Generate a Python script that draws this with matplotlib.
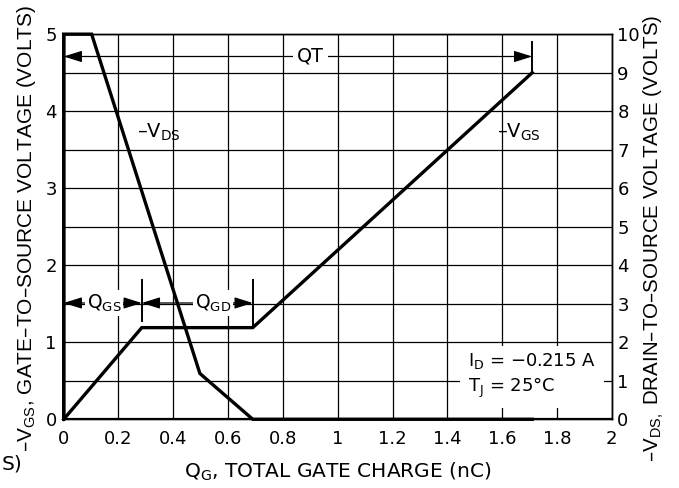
import numpy as np
import matplotlib
matplotlib.use('Agg')
import matplotlib.pyplot as plt

plt.rcParams['font.family'] = ['DejaVu Sans']
plt.rcParams['mathtext.default'] = 'regular'

# gate charge (nC) / voltages
qg_vgs = [0, 0.285, 0.69, 1.71]
vgs = [0, 1.19, 1.19, 4.5]          # left axis, volts
qg_vds = [0, 0, 0.102, 0.497, 0.69, 1.71]
vds = [0, 10, 10, 1.19, 0, 0]       # right axis, volts

q_gs = 0.285   # end of QGS
q_gd = 0.69    # end of QGD
q_t = 1.71     # total gate charge
y_qt = 4.71
y_qgsd = 1.51

fig = plt.figure(figsize=(6.79, 4.88), dpi=100)
ax = fig.add_axes([0.0938, 0.1408, 0.9009 - 0.0938, 0.930 - 0.1408])
ax2 = ax.twinx()

ax.set_xlim(0, 2)
ax.set_ylim(0, 5)
ax2.set_ylim(0, 10)
ax.set_xticks(np.arange(0, 2.01, 0.2))
ax.set_xticklabels(['0', '0.2', '0.4', '0.6', '0.8', '1', '1.2', '1.4', '1.6', '1.8', '2'])
ax.set_yticks(range(0, 6))
ax.set_yticks(np.arange(0.5, 5, 1.0), minor=True)
ax2.set_yticks(range(0, 11))
ax.grid(True, which='both', color='k', lw=0.9)
ax.set_axisbelow(True)
ax.tick_params(which='both', length=0, labelsize=13)
ax.tick_params(axis='x', pad=8)
ax.tick_params(axis='y', pad=5)
ax2.tick_params(length=0, labelsize=13, pad=4)
for a in (ax, ax2):
    for s in a.spines.values():
        s.set_linewidth(1.0)
ax.spines['bottom'].set_linewidth(1.6)

ax.plot(qg_vgs, vgs, color='k', lw=2.4, solid_joinstyle='miter', clip_on=False, zorder=4)
ax2.plot(qg_vds, vds, color='k', lw=2.4, solid_joinstyle='miter', clip_on=False, zorder=4)

# QT marker and arrow
ax.plot([q_t, q_t], [4.5, 4.9], color='k', lw=1.4, zorder=4)
arr = dict(arrowstyle='<|-|>,head_length=0.7,head_width=0.22', color='k', lw=0.9,
           shrinkA=0, shrinkB=0, mutation_scale=16)
ax.annotate('', xy=(0, y_qt), xytext=(q_t, y_qt), arrowprops=arr, zorder=3)
ax.text(0.9, y_qt, 'QT', fontsize=13.8, ha='center', va='center', zorder=5,
        bbox=dict(facecolor='white', edgecolor='none', pad=3))

# QGS / QGD markers
ax.plot([q_gs, q_gs], [1.28, 1.81], color='k', lw=1.4, zorder=4)
ax.plot([q_gd, q_gd], [1.19, 1.81], color='k', lw=1.4, zorder=4)
ax.annotate('', xy=(0, y_qgsd), xytext=(q_gs, y_qgsd), arrowprops=arr, zorder=3)
ax.annotate('', xy=(q_gs, y_qgsd), xytext=(q_gd, y_qgsd), arrowprops=arr, zorder=3)
ax.text(0.147, y_qgsd, 'Q$_{GS}$', fontsize=13.5, ha='center', va='center', zorder=5,
        bbox=dict(facecolor='white', edgecolor='none', pad=1.5))
ax.text(0.545, y_qgsd, 'Q$_{GD}$', fontsize=13.5, ha='center', va='center', zorder=5,
        bbox=dict(facecolor='white', edgecolor='none', pad=1.5))

ax.text(0.267, 3.65, '\u2013V$_{DS}$', fontsize=14, ha='left', va='baseline', zorder=5)
ax.text(1.58, 3.65, '\u2013V$_{GS}$', fontsize=14, ha='left', va='baseline', zorder=5)

ax.text(1.475, 0.57, 'I$_D$ = \u22120.215 A\nT$_J$ = 25\u00b0C', fontsize=13, ha='left',
        va='center', linespacing=1.3, zorder=5,
        bbox=dict(facecolor='white', edgecolor='none', pad=6))

ax.set_xlabel('Q$_G$, TOTAL GATE CHARGE (nC)', fontsize=14.5, labelpad=9)
fig.text(15 / 679, 1 - 452 / 488, '\u2013V$_{GS}$, GATE\u2013TO\u2013SOURCE VOLTAGE (VOLTS)',
         rotation=90, fontsize=15, family='Liberation Sans', ha='left', va='bottom')
fig.text(642 / 679, 1 - 462 / 488, '\u2013V$_{DS,}$ DRAIN\u2013TO\u2013SOURCE VOLTAGE (VOLTS)',
         rotation=90, fontsize=14.8, family='Liberation Sans', ha='left', va='bottom')
fig.text(0.002, 1 - 470 / 488, 'S)', fontsize=14.5, ha='left', va='baseline')

plt.savefig('out.png', dpi=100)
